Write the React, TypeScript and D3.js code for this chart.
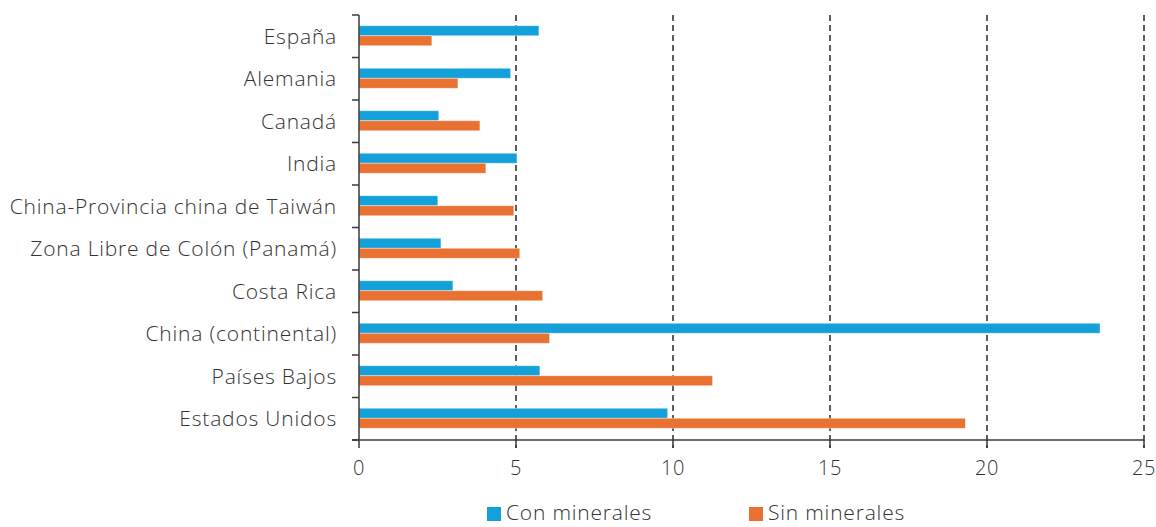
import React from "react";
import * as d3 from "d3";

const categories = [
  "España",
  "Alemania",
  "Canadá",
  "India",
  "China-Provincia china de Taiwán",
  "Zona Libre de Colón (Panamá)",
  "Costa Rica",
  "China (continental)",
  "Países Bajos",
  "Estados Unidos",
];
const conMinerales = [5.73, 4.83, 2.54, 5.03, 2.51, 2.61, 2.99, 23.6, 5.76, 9.83];
const sinMinerales = [2.32, 3.15, 3.85, 4.04, 4.93, 5.12, 5.85, 6.07, 11.26, 19.31];
const xTicks = [0, 5, 10, 15, 20, 25];
const seriesNames = ["Con minerales", "Sin minerales"];
const colors = ["#14A0D8", "#E97132"];

const W = 1156;
const H = 527;
const FONT = "'Open Sans', 'Noto Sans', sans-serif";

export default function App() {
  const left = 359;
  const right = 1144;
  const top = 15;
  const bottom = 440;
  const x = d3.scaleLinear().domain([0, 25]).range([left, right]);
  const y = d3.scaleBand().domain(categories).range([top, bottom]);
  const barH = 10;
  const axisColor = "#3a3a3a";
  const textColor = "#333333";

  return (
    <svg
      width={W}
      height={H}
      style={{ position: "absolute", left: 0, top: 0, background: "#fff" }}
      fontFamily={FONT}
    >
      {/* gridlines */}
      {xTicks.slice(1).map((t) => (
        <line
          key={"g" + t}
          x1={x(t)}
          x2={x(t)}
          y1={top}
          y2={bottom + 8}
          stroke="#1a1a1a"
          strokeWidth={1.4}
          strokeDasharray="6,4"
        />
      ))}
      {/* bars */}
      {categories.map((c, i) => {
        const cy = (y(c) as number) + y.bandwidth() / 2;
        return (
          <g key={c}>
            <rect
              x={x(0)}
              y={cy - barH - 0.5}
              width={x(conMinerales[i]) - x(0)}
              height={barH}
              fill={colors[0]}
              stroke="#ffffff"
              strokeOpacity={0.5}
              strokeWidth={0.8}
            />
            <rect
              x={x(0)}
              y={cy - 0.5}
              width={x(sinMinerales[i]) - x(0)}
              height={barH}
              fill={colors[1]}
              stroke="#ffffff"
              strokeOpacity={0.5}
              strokeWidth={0.8}
            />
          </g>
        );
      })}
      {/* y axis */}
      <line x1={left} x2={left} y1={top} y2={bottom} stroke={axisColor} strokeWidth={1.5} />
      {d3.range(categories.length + 1).map((i) => {
        const yy = top + i * y.step();
        return (
          <line key={"yt" + i} x1={left - 7} x2={left} y1={yy} y2={yy} stroke={axisColor} strokeWidth={1.5} />
        );
      })}
      {categories.map((c) => (
        <text
          key={"l" + c}
          x={337}
          y={(y(c) as number) + y.bandwidth() / 2}
          dy="0.35em"
          textAnchor="end"
          fontSize={21}
          fontWeight={300}
          letterSpacing={0.8}
          fill={textColor}
        >
          {c}
        </text>
      ))}
      {/* x axis */}
      <line x1={left - 7} x2={right} y1={bottom} y2={bottom} stroke={axisColor} strokeWidth={1.5} />
      {xTicks.map((t) => (
        <g key={"xt" + t}>
          <line x1={x(t)} x2={x(t)} y1={bottom} y2={bottom + 8} stroke={axisColor} strokeWidth={1.5} />
          <text
            x={x(t)}
            y={475}
            textAnchor="middle"
            fontSize={20}
            fontWeight={300}
            letterSpacing={0.5}
            fill={textColor}
          >
            {t}
          </text>
        </g>
      ))}
      {/* legend */}
      {seriesNames.map((s, i) => {
        const lx = i === 0 ? 487 : 749;
        return (
          <g key={s}>
            <rect x={lx} y={507} width={14} height={14} fill={colors[i]} />
            <text x={lx + 19} y={520} fontSize={21} fontWeight={300} letterSpacing={0.8} fill={textColor}>
              {s}
            </text>
          </g>
        );
      })}
    </svg>
  );
}
